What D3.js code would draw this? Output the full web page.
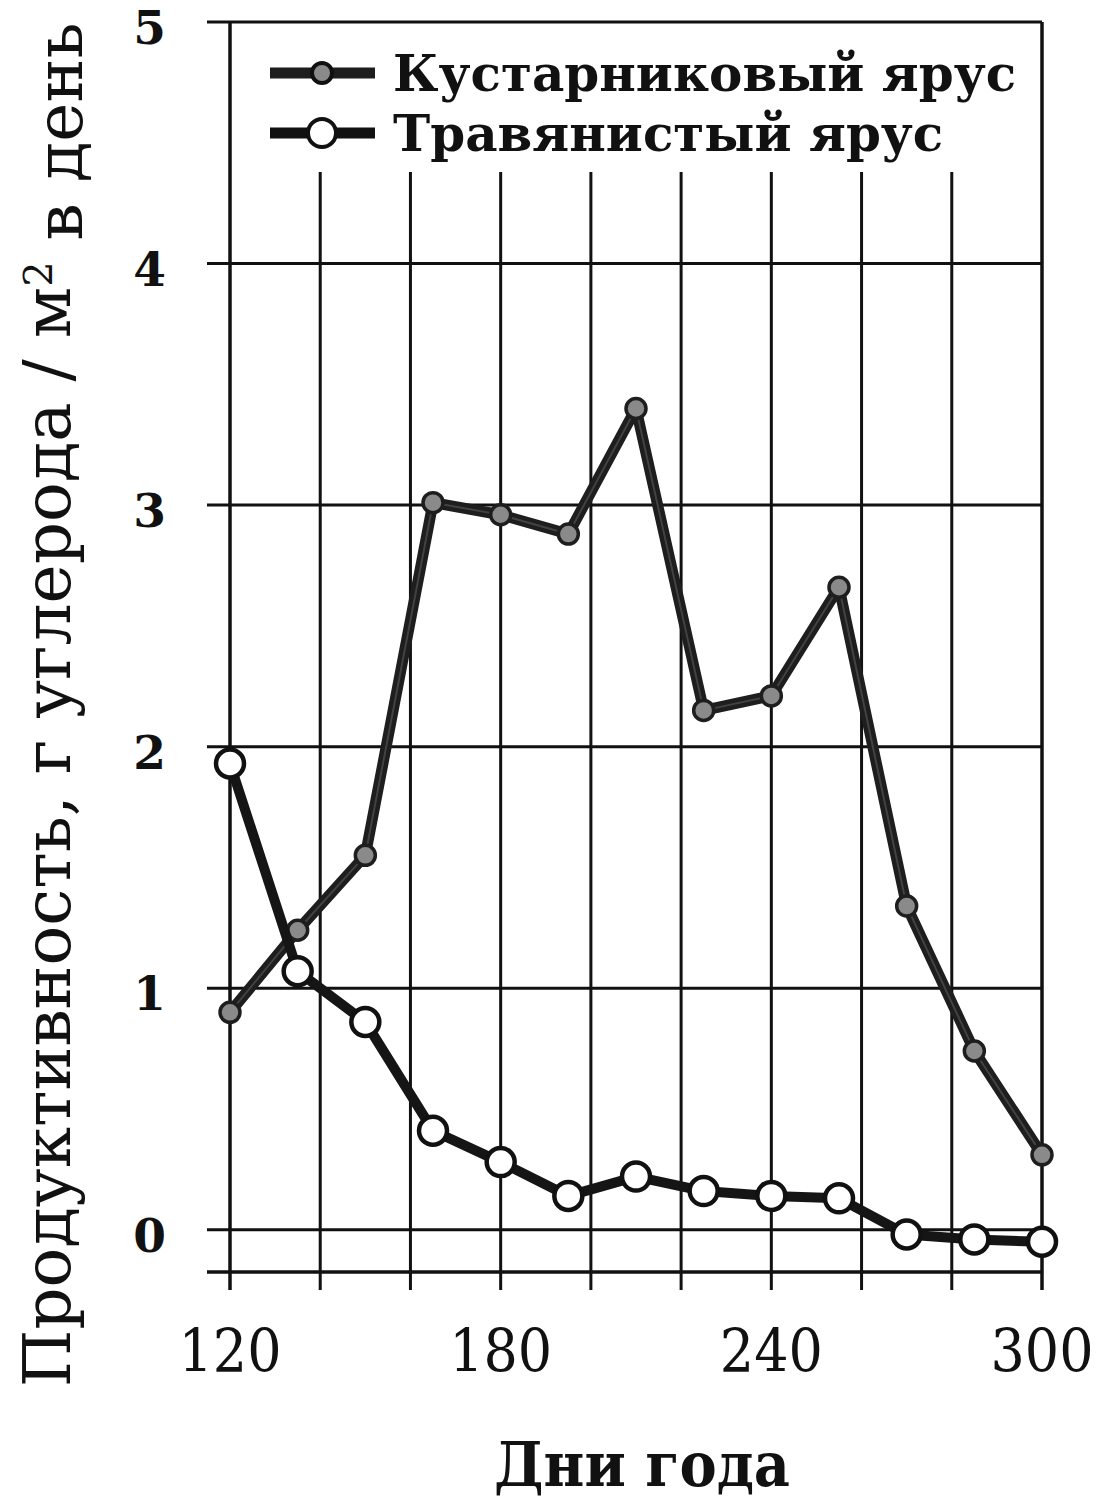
<!DOCTYPE html>
<html>
<head>
<meta charset="utf-8">
<script src="https://cdn.jsdelivr.net/npm/d3@7"></script>
<style>
  body { margin: 0; background: #fff; }
  svg text { font-family: "DejaVu Serif", "Liberation Serif", serif; fill: #111; }
</style>
</head>
<body>
<div id="chart"></div>
<script>
const days  = [120, 135, 150, 165, 180, 195, 210, 225, 240, 255, 270, 285, 300];
const shrub = [0.90, 1.24, 1.55, 3.01, 2.96, 2.88, 3.40, 2.15, 2.21, 2.66, 1.34, 0.74, 0.31];
const grass = [1.93, 1.07, 0.86, 0.41, 0.28, 0.14, 0.22, 0.16, 0.14, 0.13, -0.02, -0.04, -0.05];

const seriesNames = ['Кустарниковый ярус', 'Травянистый ярус'];
const yTicks      = [0, 1, 2, 3, 4, 5];
const xGridDays   = [140, 160, 180, 200, 220, 240, 260, 280];
const xTickLabels = [120, 180, 240, 300];
const yTitle      = 'Продуктивность, г углерода / м';
const xTitle      = 'Дни года';

const W = 1110, H = 1500;

const svg = d3.select('#chart')
  .append('svg')
  .attr('width', W)
  .attr('height', H);

const x = d3.scaleLinear().domain([120, 300]).range([230, 1042]);
const y = d3.scaleLinear().domain([-0.175, 5]).range([1272, 22]);

const ink = '#111';
const grid = svg.append('g');

// horizontal grid lines, ticked out to the left
yTicks.forEach(v => {
  grid.append('line')
    .attr('x1', x(120) - 23).attr('x2', x(300))
    .attr('y1', y(v)).attr('y2', y(v))
    .attr('stroke', ink).attr('stroke-width', 3);
});

// bottom axis line
grid.append('line')
  .attr('x1', x(120) - 23).attr('x2', x(300))
  .attr('y1', y.range()[0]).attr('y2', y.range()[0])
  .attr('stroke', ink).attr('stroke-width', 3.5);

// vertical grid lines, they stop under the legend
xGridDays.forEach(d => {
  grid.append('line')
    .attr('x1', x(d)).attr('x2', x(d))
    .attr('y1', 172).attr('y2', y.range()[0] + 18)
    .attr('stroke', ink).attr('stroke-width', 3);
});

// frame sides
[120, 300].forEach(d => {
  grid.append('line')
    .attr('x1', x(d)).attr('x2', x(d))
    .attr('y1', y(5)).attr('y2', y.range()[0] + 18)
    .attr('stroke', ink).attr('stroke-width', 3.5);
});

// y tick labels
svg.selectAll('.ytick')
  .data(yTicks)
  .enter().append('text')
  .attr('x', 166)
  .attr('y', d => y(d) + 22)
  .attr('text-anchor', 'end')
  .attr('font-size', '47px')
  .attr('font-weight', 'bold')
  .text(d => d);

// x tick labels
svg.selectAll('.xtick')
  .data(xTickLabels)
  .enter().append('text')
  .attr('x', d => x(d))
  .attr('y', 1372)
  .attr('text-anchor', 'middle')
  .attr('font-size', '60px')
  .attr('font-stretch', 'condensed')
  .text(d => d);

// axis titles
svg.append('text')
  .attr('x', 642)
  .attr('y', 1486)
  .attr('text-anchor', 'middle')
  .attr('font-size', '62px')
  .attr('font-weight', 'bold')
  .attr('font-stretch', 'condensed')
  .text(xTitle);

const yt = svg.append('text')
  .attr('transform', 'translate(70,705) rotate(-90)')
  .attr('text-anchor', 'middle')
  .attr('font-size', '66px');
yt.append('tspan').text(yTitle);
yt.append('tspan').attr('dy', '-0.45em').attr('font-size', '40px').text('2');
yt.append('tspan').attr('dy', '0.45em').text(' в день');

// series
const line = d3.line().x((d, i) => x(days[i])).y(d => y(d));

const shrubG = svg.append('g');
shrubG.append('path')
  .datum(shrub)
  .attr('d', line)
  .attr('fill', 'none')
  .attr('stroke', '#1e1e1e')
  .attr('stroke-width', 11)
  .attr('stroke-linejoin', 'round');
shrubG.append('path')
  .datum(shrub)
  .attr('d', line)
  .attr('fill', 'none')
  .attr('stroke', '#666')
  .attr('stroke-width', 2)
  .attr('stroke-opacity', 0.5);
shrubG.selectAll('circle')
  .data(shrub)
  .enter().append('circle')
  .attr('cx', (d, i) => x(days[i]))
  .attr('cy', d => y(d))
  .attr('r', 10)
  .attr('fill', '#8a8a8a')
  .attr('stroke', '#1e1e1e')
  .attr('stroke-width', 3.5);

const grassG = svg.append('g');
grassG.append('path')
  .datum(grass)
  .attr('d', line)
  .attr('fill', 'none')
  .attr('stroke', '#151515')
  .attr('stroke-width', 10)
  .attr('stroke-linejoin', 'round');
grassG.selectAll('circle')
  .data(grass)
  .enter().append('circle')
  .attr('cx', (d, i) => x(days[i]))
  .attr('cy', d => y(d))
  .attr('r', 14)
  .attr('fill', '#fff')
  .attr('stroke', '#111')
  .attr('stroke-width', 4.5);

// legend
const legend = svg.append('g');
const legendRows = [
  { name: seriesNames[0], cy: 73,  r: 10, fill: '#8a8a8a', stroke: '#1e1e1e' },
  { name: seriesNames[1], cy: 133, r: 14, fill: '#fff',    stroke: '#111' }
];
legendRows.forEach(row => {
  legend.append('line')
    .attr('x1', 270).attr('x2', 375)
    .attr('y1', row.cy).attr('y2', row.cy)
    .attr('stroke', row.stroke).attr('stroke-width', 11);
  legend.append('circle')
    .attr('cx', 322).attr('cy', row.cy).attr('r', row.r)
    .attr('fill', row.fill).attr('stroke', '#111').attr('stroke-width', 4);
  legend.append('text')
    .attr('x', 393)
    .attr('y', row.cy + 18)
    .attr('font-size', '50px')
    .attr('font-weight', 'bold')
    .text(row.name);
});
</script>
</body>
</html>
